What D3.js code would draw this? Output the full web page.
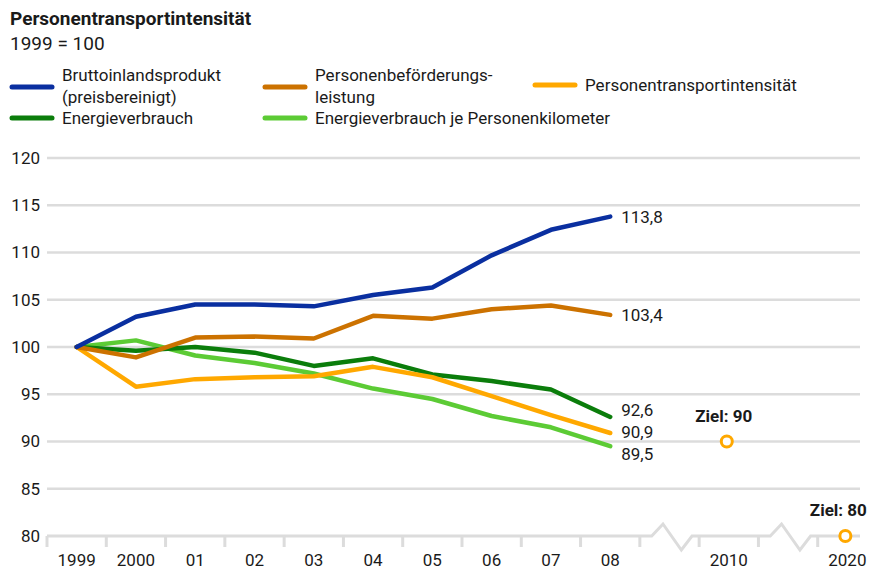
<!DOCTYPE html>
<html>
<head>
<meta charset="utf-8">
<script src="https://cdn.jsdelivr.net/npm/d3@7"></script>
<style>
  html, body { margin: 0; padding: 0; background: #fff; }
  svg { display: block; }
  text { font-family: Roboto, "Noto Sans", sans-serif; fill: #1a1a1a; }
</style>
</head>
<body>
<svg id="chart" width="871" height="571"></svg>
<script>
// ---- data ----
const years = ["1999", "2000", "01", "02", "03", "04", "05", "06", "07", "08"];
const slots = ["1999", "2000", "01", "02", "03", "04", "05", "06", "07", "08", "gap1", "2010", "gap2", "2020"];
const yTicks = [80, 85, 90, 95, 100, 105, 110, 115, 120];

const bip        = [100, 103.2, 104.5, 104.5, 104.3, 105.5, 106.3, 109.7, 112.4, 113.8];
const befoerd    = [100, 98.9, 101.0, 101.1, 100.9, 103.3, 103.0, 104.0, 104.4, 103.4];
const intensitaet= [100, 95.8, 96.6, 96.8, 96.9, 97.9, 96.8, 94.8, 92.8, 90.9];
const energie    = [100, 99.6, 100.0, 99.4, 98.0, 98.8, 97.1, 96.4, 95.5, 92.6];
const energieJePkm=[100, 100.7, 99.1, 98.3, 97.2, 95.6, 94.5, 92.7, 91.5, 89.5];

const endLabels = ["113,8", "103,4", "90,9", "92,6", "89,5"];
const targets = [{year: "2010", value: 90, label: "Ziel: 90"}, {year: "2020", value: 80, label: "Ziel: 80"}];

const series = [
  {name: "Bruttoinlandsprodukt", values: bip, color: "#0a2fa0", label: endLabels[0], dy: 0},
  {name: "Personenbeförderungsleistung", values: befoerd, color: "#cc7200", label: endLabels[1], dy: 0},
  {name: "Personentransportintensität", values: intensitaet, color: "#ffa800", label: endLabels[2], dy: -1},
  {name: "Energieverbrauch", values: energie, color: "#0b7d0b", label: endLabels[3], dy: -7},
  {name: "Energieverbrauch je Personenkilometer", values: energieJePkm, color: "#5ccb35", label: endLabels[4], dy: 8}
];

const legend = [
  {lines: ["Bruttoinlandsprodukt", "(preisbereinigt)"], color: "#0a2fa0", x: 12, y: 87},
  {lines: ["Personenbeförderungs-", "leistung"], color: "#cc7200", x: 265, y: 87},
  {lines: ["Personentransportintensität"], color: "#ffa800", x: 535, y: 85},
  {lines: ["Energieverbrauch"], color: "#0b7d0b", x: 12, y: 118},
  {lines: ["Energieverbrauch je Personenkilometer"], color: "#5ccb35", x: 265, y: 118}
];

// ---- chart ----
const svg = d3.select("#chart");
const x = d3.scaleBand().domain(slots).range([47, 877]).padding(0);
const y = d3.scaleLinear().domain([80, 120]).range([536, 158]);
const cx = d => x(d) + x.bandwidth() / 2;

// title
svg.append("text").attr("x", 10).attr("y", 25).attr("font-size", 19).attr("font-weight", 700)
  .text("Personentransportintensität");
svg.append("text").attr("x", 10).attr("y", 50).attr("font-size", 19).text("1999 = 100");

// legend
legend.forEach(l => {
  svg.append("line").attr("x1", l.x).attr("x2", l.x + 40).attr("y1", l.y).attr("y2", l.y)
    .attr("stroke", l.color).attr("stroke-width", 5).attr("stroke-linecap", "round");
  if (l.lines.length === 2) {
    l.lines.forEach((t, i) => svg.append("text").attr("x", l.x + 50).attr("y", l.y - 6 + i * 22)
      .attr("font-size", 17).text(t));
  } else {
    svg.append("text").attr("x", l.x + 50).attr("y", l.y + 6).attr("font-size", 17).text(l.lines[0]);
  }
});

// grid
svg.append("g").selectAll("line").data(yTicks.filter(d => d > 80)).join("line")
  .attr("x1", 47).attr("x2", 860).attr("y1", d => y(d)).attr("y2", d => y(d))
  .attr("stroke", "#dcdcdc").attr("stroke-width", 2.5);

// y labels
svg.append("g").selectAll("text").data(yTicks).join("text")
  .attr("x", 40).attr("y", d => y(d)).attr("dy", "0.35em").attr("text-anchor", "end")
  .attr("font-size", 17).text(d => d);

// x axis line with breaks
const ax = [];
const y0 = y(80);
slots.forEach(s => {
  const x0 = x(s), w = x.bandwidth();
  if (s.startsWith("gap")) {
    ax.push([x0, y0], [x0 + w * 0.2, y0], [x0 + w * 0.39, y0 - 12], [x0 + w * 0.7, y0 + 14], [x0 + w * 0.88, y0], [x0 + w, y0]);
  } else {
    ax.push([x0, y0], [Math.min(x0 + w, 860), y0]);
  }
});
svg.append("path").attr("d", d3.line()(ax)).attr("fill", "none").attr("stroke", "#dcdcdc").attr("stroke-width", 3);

// ticks at slot boundaries
const tickXs = [];
slots.forEach((s, i) => { tickXs.push(x(s)); });
tickXs.push(x("08") + x.bandwidth());
svg.append("g").selectAll("line").data(Array.from(new Set(tickXs)).filter(v => v < 860)).join("line")
  .attr("x1", d => d).attr("x2", d => d).attr("y1", y0).attr("y2", y0 + 11)
  .attr("stroke", "#dcdcdc").attr("stroke-width", 3);

// x labels
svg.append("g").selectAll("text").data(years.concat(["2010", "2020"])).join("text")
  .attr("x", d => cx(d)).attr("y", 566).attr("text-anchor", "middle").attr("font-size", 17).text(d => d);

// lines
const line = d3.line().x((d, i) => cx(years[i])).y(d => y(d));
series.slice().reverse().forEach(s => {
  svg.append("path").attr("d", line(s.values)).attr("fill", "none")
    .attr("stroke", s.color).attr("stroke-width", 4.5).attr("stroke-linejoin", "round").attr("stroke-linecap", "round");
});
// end labels
series.forEach(s => {
  const last = s.values[s.values.length - 1];
  svg.append("text").attr("x", cx("08") + 11).attr("y", y(last) + s.dy).attr("dy", "0.35em")
    .attr("font-size", 17).text(s.label);
});

// targets
targets.forEach((t, i) => {
  svg.append("circle").attr("cx", cx(t.year) - 2).attr("cy", y(t.value)).attr("r", 5.5)
    .attr("fill", "#fff").attr("stroke", "#ffa800").attr("stroke-width", 3);
  svg.append("text").attr("x", cx(t.year) - 5 - i * 4).attr("y", y(t.value) - 20).attr("text-anchor", "middle")
    .attr("font-size", 17).attr("font-weight", 700).text(t.label);
});
</script>
</body>
</html>
